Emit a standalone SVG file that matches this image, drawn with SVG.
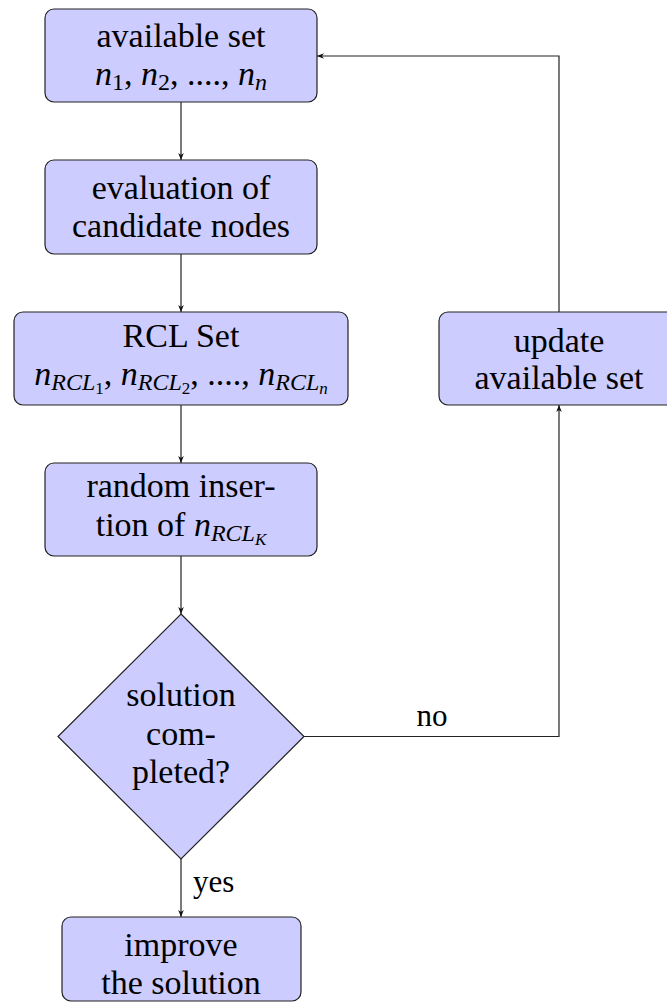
<svg xmlns="http://www.w3.org/2000/svg" width="667" height="1008" viewBox="0 0 667 1008">
<defs>
<style>
.box{fill:#ccccff;stroke:#222;stroke-width:1.2}
.t{font-family:"Liberation Serif","Times New Roman",serif;font-size:34px;fill:#000;text-anchor:middle}
.i{font-style:italic}
.s{font-size:24px}
.ss{font-size:17px}
.c{fill:none;stroke:#222;stroke-width:1.2}
.lbl{font-family:"Liberation Serif","Times New Roman",serif;font-size:31px;fill:#000}
</style>
<marker id="ah" viewBox="0 0 10 10" refX="10" refY="5" markerWidth="7" markerHeight="7" markerUnits="userSpaceOnUse" orient="auto">
<path d="M0,1 L10,5 L0,9 L3,5 Z" fill="#111"/>
</marker>
</defs>
<rect width="667" height="1008" fill="#fff"/>
<g id="connectors">
<line class="c" x1="181" y1="102" x2="181" y2="160" marker-end="url(#ah)"/>
<line class="c" x1="181" y1="254" x2="181" y2="312" marker-end="url(#ah)"/>
<line class="c" x1="181" y1="405" x2="181" y2="463" marker-end="url(#ah)"/>
<line class="c" x1="181" y1="556" x2="181" y2="614" marker-end="url(#ah)"/>
<line class="c" x1="181" y1="859" x2="181" y2="917" marker-end="url(#ah)"/>
<polyline class="c" points="304,736.5 559,736.5 559,405" marker-end="url(#ah)"/>
<polyline class="c" points="559,312 559,56 317,56" marker-end="url(#ah)"/>
<text class="lbl" x="193" y="892" font-family="Liberation Serif, serif">yes</text>
<text class="lbl" x="432" y="726" text-anchor="middle" font-family="Liberation Serif, serif">no</text>
</g>
<g id="available">
<rect class="box" x="45" y="9" width="272" height="93" rx="9"/>
<text class="t" x="181" y="47">available set</text>
<text class="t" x="181" y="85"><tspan class="i">n</tspan><tspan class="s" dy="5">1</tspan><tspan dy="-5">, </tspan><tspan class="i">n</tspan><tspan class="s" dy="5">2</tspan><tspan dy="-5">, ...., </tspan><tspan class="i">n</tspan><tspan class="s i" dy="5">n</tspan></text>
</g>
<g id="evaluation">
<rect class="box" x="45" y="160" width="272" height="94" rx="9"/>
<text class="t" x="181" y="199">evaluation of</text>
<text class="t" x="181" y="237">candidate nodes</text>
</g>
<g id="rcl">
<rect class="box" x="14" y="312" width="334" height="93" rx="9"/>
<text class="t" x="181" y="347">RCL Set</text>
<text class="t" x="181" y="385"><tspan class="i">n</tspan><tspan class="s i" dy="5">RCL</tspan><tspan class="ss" dy="4">1</tspan><tspan dy="-9">, </tspan><tspan class="i">n</tspan><tspan class="s i" dy="5">RCL</tspan><tspan class="ss" dy="4">2</tspan><tspan dy="-9">, ...., </tspan><tspan class="i">n</tspan><tspan class="s i" dy="5">RCL</tspan><tspan class="ss i" dy="4">n</tspan></text>
</g>
<g id="random">
<rect class="box" x="45" y="463" width="272" height="93" rx="9"/>
<text class="t" x="181" y="497">random inser-</text>
<text class="t" x="181" y="536">tion of <tspan class="i">n</tspan><tspan class="s i" dy="5">RCL</tspan><tspan class="ss i" dy="4">K</tspan></text>
</g>
<g id="decision">
<polygon class="box" points="181,614 304,736.5 181,859 58,736.5"/>
<text class="t" x="181" y="706">solution</text>
<text class="t" x="181" y="745">com-</text>
<text class="t" x="181" y="783">pleted?</text>
</g>
<g id="improve">
<rect class="box" x="62" y="917" width="239" height="84" rx="9"/>
<text class="t" x="181" y="956">improve</text>
<text class="t" x="181" y="994">the solution</text>
</g>
<g id="update">
<rect class="box" x="439" y="312" width="240" height="93" rx="9"/>
<text class="t" x="559" y="352">update</text>
<text class="t" x="559" y="389">available set</text>
</g>
</svg>
